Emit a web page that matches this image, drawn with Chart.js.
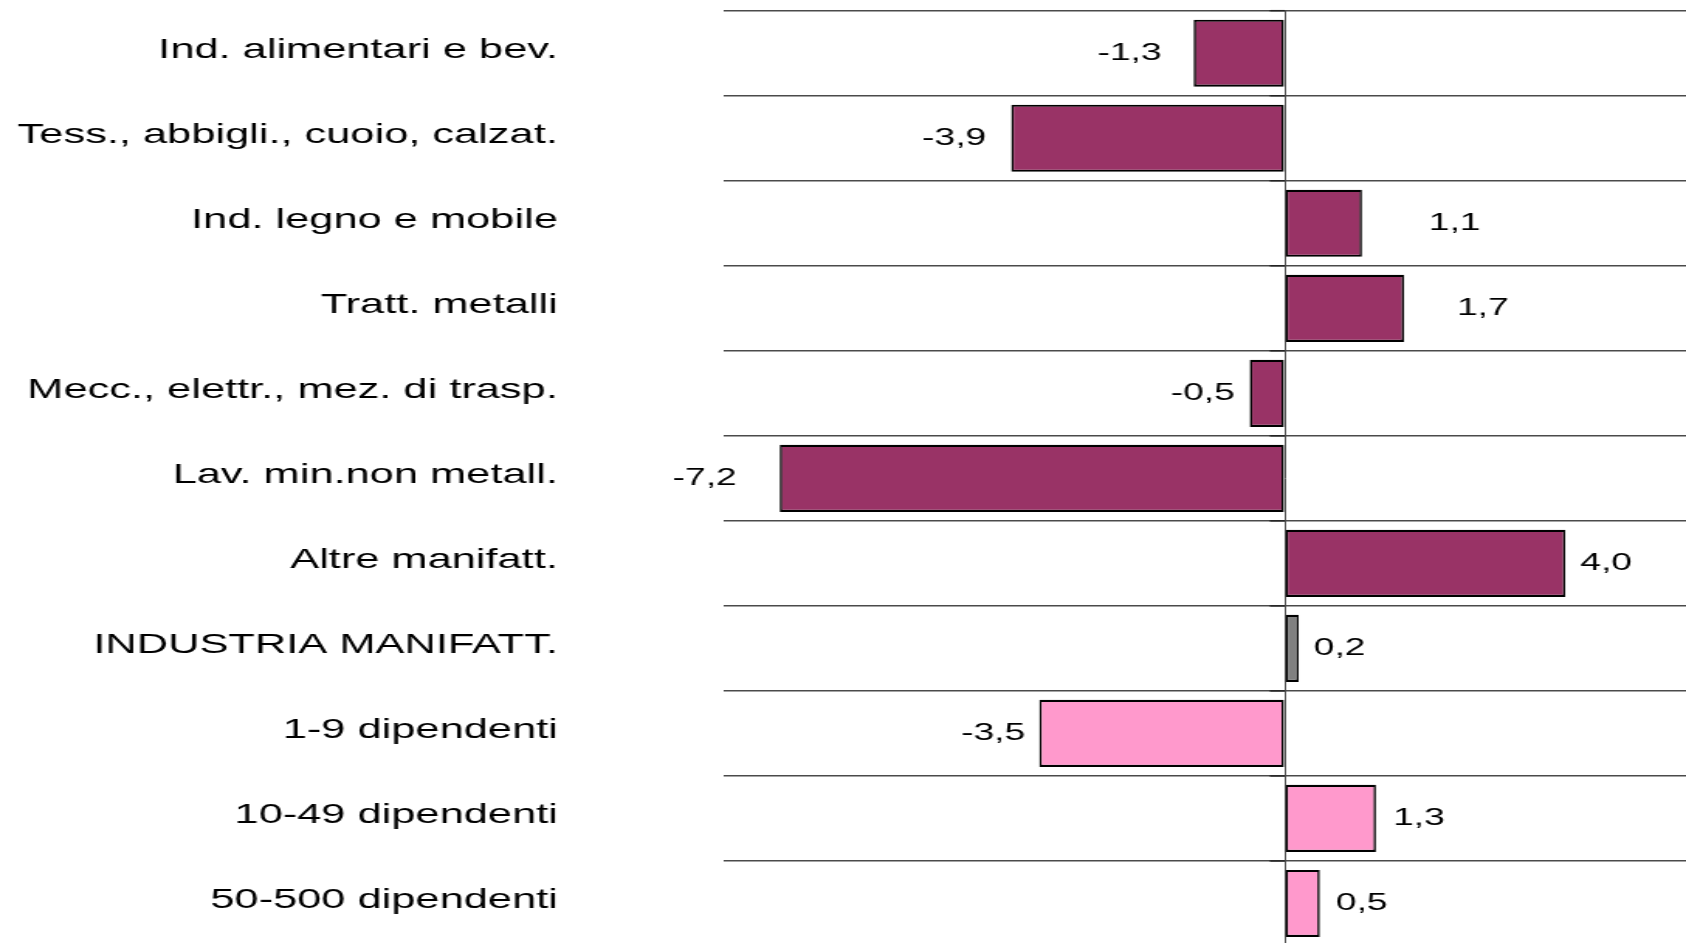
<!DOCTYPE html>
<html>
<head>
<meta charset="utf-8">
<script src="https://cdn.jsdelivr.net/npm/chart.js@4.4.1/dist/chart.umd.min.js"></script>
<style>
    html, body { margin: 0; padding: 0; background: #fff; overflow: hidden; width: 1686px; height: 943px; }
    canvas { display: block; }
</style>
</head>
<body>
<!-- the original picture is stretched sideways, so the canvas bitmap is drawn narrower and shown wider -->
<canvas id="settori" width="1088" height="950" style="width:1686px;height:950px"></canvas>
<script>
// Data block
const categories = [
    'Ind. alimentari e bev.',
    'Tess., abbigli., cuoio, calzat.',
    'Ind. legno e mobile',
    'Tratt. metalli',
    'Mecc., elettr., mez. di trasp.',
    'Lav. min.non metall.',
    'Altre manifatt.',
    'INDUSTRIA MANIFATT.',
    '1-9 dipendenti',
    '10-49 dipendenti',
    '50-500 dipendenti'
];
const variazioni = [-1.3, -3.9, 1.1, 1.7, -0.5, -7.2, 4.0, 0.2, -3.5, 1.3, 0.5];

const STRETCH = 1686 / 1088;
const PLUM = '#993366', GREY = '#808080', PINK = '#FF99CC';

// Value labels + small ticks on the zero axis
const valueLabels = {
    id: 'valueLabels',
    afterDatasetsDraw(chart, args, options) {
        const ctx = chart.ctx;
        const meta = chart.getDatasetMeta(0);
        const xs = chart.scales.x, ys = chart.scales.y;
        const zero = xs.getPixelForValue(0);
        ctx.save();
        // tick marks where the row lines meet the zero axis
        ctx.strokeStyle = '#222';
        ctx.lineWidth = 1.5;
        for (let i = 0; i <= categories.length; i++) {
            const y = ys.getPixelForValue(i - 0.5);
            ctx.beginPath();
            ctx.moveTo(zero - 15 / STRETCH, y);
            ctx.lineTo(zero, y);
            ctx.stroke();
        }
        ctx.font = '24px "Liberation Sans", Arial, sans-serif';
        ctx.fillStyle = '#000';
        ctx.textBaseline = 'middle';
        meta.data.forEach((bar, i) => {
            const v = chart.data.datasets[0].data[i];
            const gap = options.gaps[i] / STRETCH;
            const txt = v.toFixed(1).replace('.', ',');
            if (v < 0) {
                ctx.textAlign = 'right';
                ctx.fillText(txt, bar.x - gap, bar.y);
            } else {
                ctx.textAlign = 'left';
                ctx.fillText(txt, bar.x + gap, bar.y);
            }
        });
        ctx.restore();
    }
};

// Config block
const settoriConfig = {
    type: 'bar',
    data: {
        labels: categories,
        datasets: [{
            data: variazioni,
            backgroundColor: [PLUM, PLUM, PLUM, PLUM, PLUM, PLUM, PLUM, GREY, PINK, PINK, PINK],
            borderColor: '#000',
            borderWidth: { top: 2.2, bottom: 2.2, left: 1.6, right: 1.6 },
            borderSkipped: false,
            barPercentage: 0.79,
            categoryPercentage: 1
        }]
    },
    options: {
        indexAxis: 'y',
        responsive: false,
        maintainAspectRatio: false,
        animation: false,
        layout: { padding: { top: 10.7, bottom: 4, left: 0, right: 0 } },
        plugins: {
            legend: { display: false },
            tooltip: { enabled: false },
            valueLabels: { gaps: [32, 25, 67, 53, 15, 43, 15, 15, 14, 17, 16] }
        },
        scales: {
            x: {
                min: -8,
                max: 5.72,
                ticks: { display: false, stepSize: 1 },
                border: { display: false },
                grid: {
                    drawTicks: false,
                    // only the zero line is drawn
                    color: (c) => c.tick && c.tick.value === 0 ? '#555' : 'rgba(0,0,0,0)',
                    lineWidth: 1
                },
                afterFit(scale) { scale.height = 0; scale.paddingLeft = 0; scale.paddingRight = 0; }
            },
            y: {
                border: { display: false },
                grid: { offset: true, drawTicks: false, color: '#4a4a4a', lineWidth: 1.5 },
                ticks: {
                    color: '#000',
                    padding: 107,
                    labelOffset: -3,
                    font: { family: '"Liberation Sans", Arial, sans-serif', size: 28 }
                },
                afterFit(scale) {
                    scale.width = 723.6 / STRETCH;
                    // tick padding would otherwise also pad the top and bottom
                    scale.paddingTop = 0;
                    scale.paddingBottom = 0;
                }
            }
        }
    },
    plugins: [valueLabels]
};

// render / init block
const settoriChart = new Chart(document.getElementById('settori'), settoriConfig);
</script>
</body>
</html>
